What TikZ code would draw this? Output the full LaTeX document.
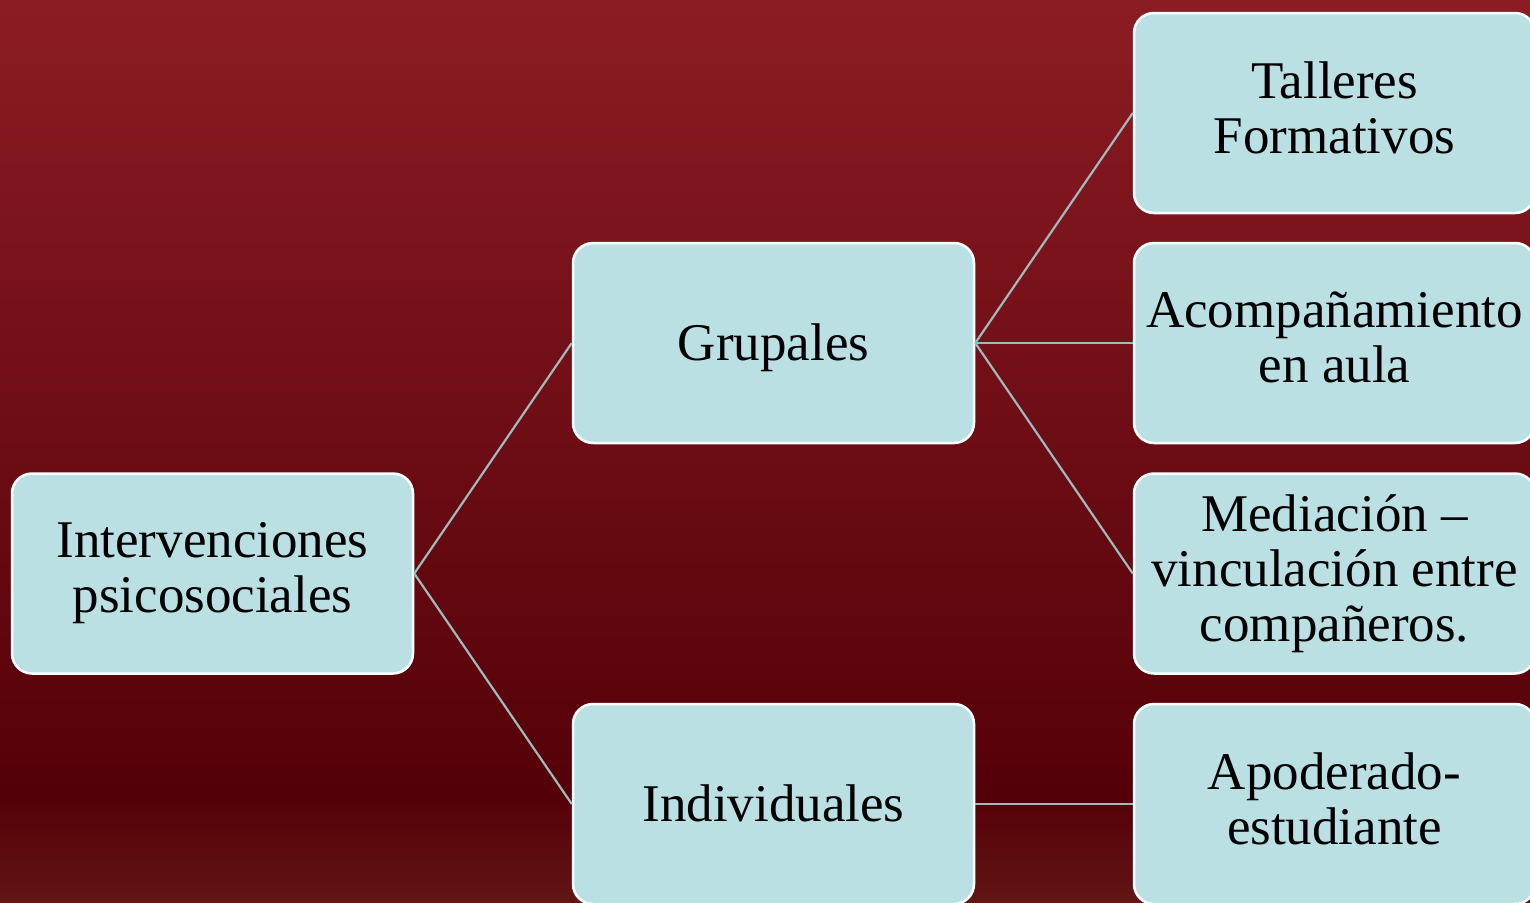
\documentclass[tikz,border=0pt]{standalone}
\usepackage{fontspec}
\setmainfont{Liberation Serif}
\definecolor{bgtop}{RGB}{140,28,35}
\definecolor{bgdark}{RGB}{84,0,8}
\definecolor{bgbot}{RGB}{98,22,20}
\definecolor{boxfill}{RGB}{186,224,227}
\definecolor{linkc}{RGB}{157,186,190}
\tikzset{
  box/.style={rectangle, rounded corners=20pt, draw=white, line width=2.5pt,
    fill=boxfill, minimum width=401pt, minimum height=200pt, inner sep=0pt,
    align=center, font=\fontsize{53}{55}\selectfont, text=black,
    execute at begin node={\rule{0pt}{0.891em}},
    execute at end node={\rule[-0.216em]{0pt}{0pt}}},
  link/.style={draw=linkc, line width=2.2pt}
}
\begin{document}
\begin{tikzpicture}[x=1pt,y=-1pt]
\useasboundingbox (0,0) rectangle (1530,902);
\clip (0,0) rectangle (1530,902);
\shade[top color=bgtop, bottom color=bgdark] (0,-1) rectangle (1530,800);
\shade[top color=bgdark, bottom color=bgbot] (0,799) rectangle (1530,903);
\node[box] (root) at (212.5,573.5) {Intervenciones\\psicosociales};
\node[box] (grup) at (773.5,343) {Grupales};
\node[box] (indiv) at (773.5,804) {Individuales};
\node[box] (tall) at (1334.5,113) {Talleres\\Formativos};
\node[box] (acom) at (1334.5,343) {Acompañamiento\\en aula};
\node[box] (medi) at (1334.5,573.5) {Mediación –\\vinculación entre\\compañeros.};
\node[box] (apod) at (1334.5,804) {Apoderado-\\estudiante};
\draw[link] (root.east) -- (grup.west);
\draw[link] (root.east) -- (indiv.west);
\draw[link] (grup.east) -- (tall.west);
\draw[link] (grup.east) -- (acom.west);
\draw[link] (grup.east) -- (medi.west);
\draw[link] (indiv.east) -- (apod.west);
\end{tikzpicture}
\end{document}
